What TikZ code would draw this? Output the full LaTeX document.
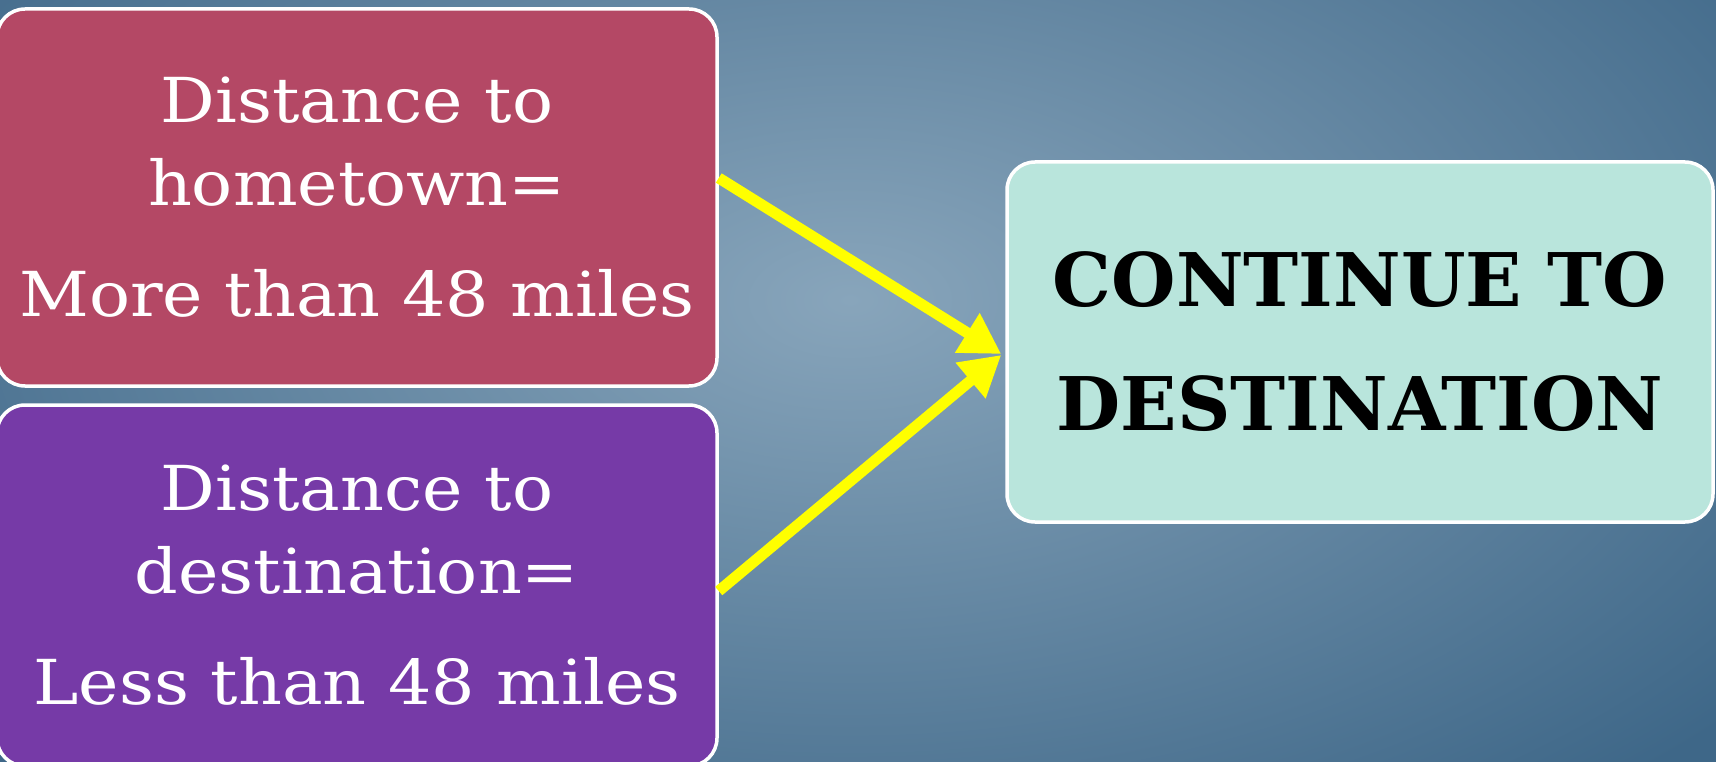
\documentclass[tikz,border=0pt]{standalone}
\usepackage{fontspec}
\setmainfont{DejaVu Serif}
\newfontfamily\widefont[FakeStretch=1.1]{DejaVu Serif}
\usetikzlibrary{arrows.meta}
\definecolor{bgdark}{HTML}{3E6788}
\definecolor{bglight}{HTML}{88A5BB}
\definecolor{boxred}{HTML}{B44865}
\definecolor{boxpurple}{HTML}{763AA7}
\definecolor{boxmint}{HTML}{B9E5DC}
\definecolor{arrowyellow}{HTML}{FFFF00}
\begin{document}
\begin{tikzpicture}[x=1pt,y=-1pt,
  box/.style={draw=white, line width=3.5pt, rounded corners=28pt, inner sep=0pt, align=center},
  lefttext/.style={text=white, font=\widefont\fontsize{62}{83}\selectfont},
  righttext/.style={text=black, font=\bfseries\fontsize{74}{124}\selectfont},
  arr/.style={draw=arrowyellow, line width=11pt, -{Triangle[length=40pt,width=44pt]}}]
\useasboundingbox (0,0) rectangle (1716,762);
\shade[inner color=bglight, outer color=bgdark] (-300,-350) rectangle (2000,950);
\node[box, fill=boxred, minimum width=720pt, minimum height=377pt, lefttext] (home) at (357,197.5)
  {Distance to\\hometown=\\[28pt]More than 48 miles};
\node[box, fill=boxpurple, minimum width=720pt, minimum height=361pt, lefttext] (dist) at (357,585.5)
  {Distance to\\destination=\\[28pt]Less than 48 miles};
\node[box, fill=boxmint, minimum width=706pt, minimum height=360pt, righttext] (dest) at (1360,342)
  {CONTINUE TO\\DESTINATION};
\draw[arr] ([yshift=19.5pt]home.east) -- ([xshift=-4pt,yshift=-12pt]dest.west);
\draw[arr] ([yshift=-5.5pt]dist.east) -- ([xshift=-4pt,yshift=-13pt]dest.west);
\end{tikzpicture}
\end{document}
